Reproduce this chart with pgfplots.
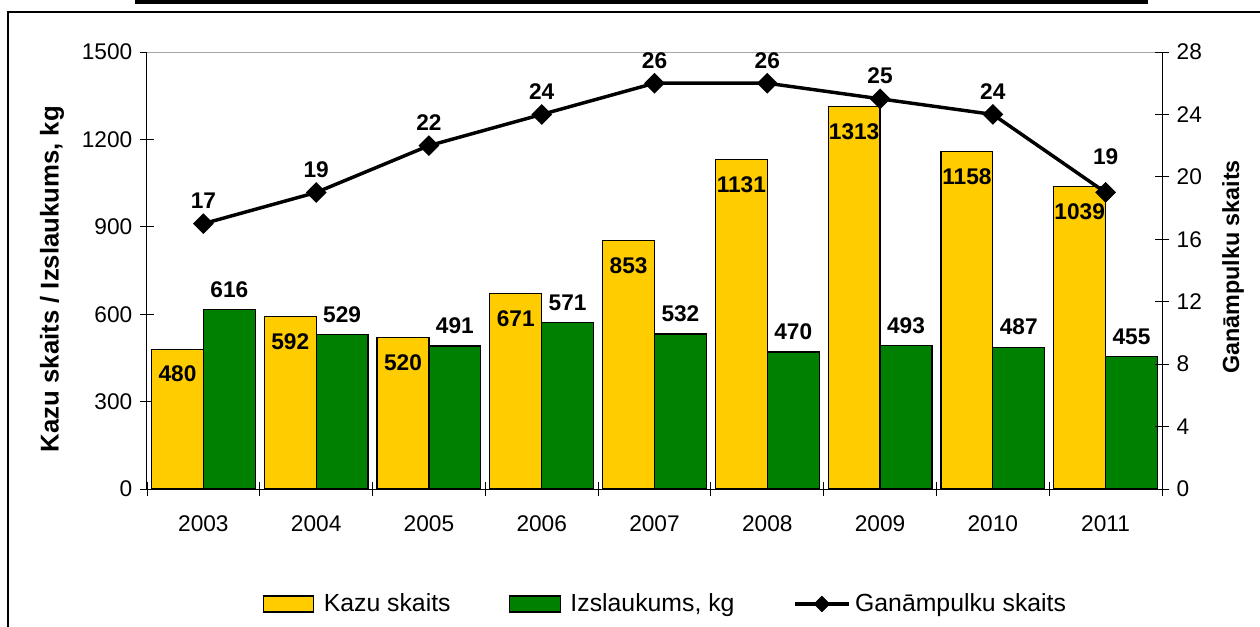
\documentclass[border=0pt]{standalone}
\usepackage{fontspec}
\setmainfont{Liberation Sans}
\usepackage{pgfplots}
\pgfplotsset{compat=1.18}
\definecolor{gold}{HTML}{FFCC00}
\definecolor{dgreen}{HTML}{008000}
\pgfplotsset{/pgf/number format/1000 sep={}}
\newcommand{\fs}{\fontsize{17}{20}\selectfont}
\newcommand{\fl}{\fontsize{18.6}{22}\selectfont}
\begin{document}
\begin{tikzpicture}[x=0.75pt,y=-0.75pt]
\useasboundingbox (0,0) rectangle (1260,626);
\fill (135,0) rectangle (1148,3.5);
\draw[line width=1.5pt] (8,630) -- (8,12) -- (1265,12);
\begin{axis}[
  at={(110.25pt,-366.75pt)}, anchor=south west,
  scale only axis, width=761.25pt, height=327.75pt,
  xmin=-0.5, xmax=8.5, ymin=0, ymax=1500,
  xtick={0,...,8}, xticklabels={2003,2004,2005,2006,2007,2008,2009,2010,2011},
  minor xtick={-0.5,0.5,...,8.5},
  major x tick style={draw=none},
  ytick={0,300,...,1500},
  axis x line*=bottom, axis y line*=left,
  tick align=center, major tick length=11pt, minor tick length=11pt,
  tick style={black, line width=0.6pt},
  axis line style={black, line width=0.75pt, -},
  /pgf/number format/assume math mode=true,
  tick label style={font=\fs},
  xticklabel style={yshift=-11pt},
  yticklabel style={xshift=-2pt},
  ylabel={Kazu skaits / Izslaukums, kg},
  ylabel style={at={(rel axis cs:-0.0936,0.4805)}, anchor=center, font=\fontsize{19.3}{22}\selectfont\bfseries},
  legend columns=3,
  legend style={draw=none, fill=none, at={(0.511,-0.263)}, anchor=center, font=\fl,
    /tikz/every even column/.append style={column sep=42pt}},
  clip=false,
]
\draw[gray!70, line width=0.75pt] (rel axis cs:0,1) -- (rel axis cs:1,1);
\addplot[ybar, bar width=0.46, bar shift=-0.23, fill=gold, draw=black, line width=0.9pt,
  nodes near coords,
  every node near coord/.append style={anchor=center, xshift=-19.45pt, yshift=-18.75pt, font=\fs\bfseries, black},
  legend image code/.code={\draw[fill=gold,draw=black,line width=0.9pt] (0pt,-6pt) rectangle (38pt,6pt); \path (43pt,0pt);}]
  coordinates {(0,480) (1,592) (2,520) (3,671) (4,853) (5,1131) (6,1313) (7,1158) (8,1039)};
\addlegendentry{Kazu skaits}
\addplot[ybar, bar width=0.46, bar shift=0.23, fill=dgreen, draw=black, line width=0.9pt,
  nodes near coords,
  every node near coord/.append style={anchor=center, xshift=19.45pt, yshift=15pt, font=\fs\bfseries, black},
  legend image code/.code={\draw[fill=dgreen,draw=black,line width=0.9pt] (0pt,-6pt) rectangle (38pt,6pt); \path (43pt,0pt);}]
  coordinates {(0,616) (1,529) (2,491) (3,571) (4,532) (5,470) (6,493) (7,487) (8,455)};
\addlegendentry{Izslaukums, kg}
\addlegendimage{legend image code/.code={\draw[black,line width=2.6pt] (0pt,0pt) -- (40.5pt,0pt);
  \path plot[mark=square*, mark size=4.2pt, mark options={rotate=45,black,fill=black}] coordinates {(20.25pt,0pt)};
  \path (43pt,0pt);}}
\addlegendentry{Ganāmpulku skaits}
\end{axis}
\begin{axis}[
  at={(110.25pt,-366.75pt)}, anchor=south west,
  scale only axis, width=761.25pt, height=327.75pt,
  xmin=-0.5, xmax=8.5, ymin=0, ymax=28,
  ytick={0,4,...,28},
  axis y line*=right, axis x line=none,
  tick align=center, major tick length=11pt,
  tick style={black, line width=0.6pt},
  axis line style={black, line width=0.75pt, -},
  /pgf/number format/assume math mode=true,
  tick label style={font=\fs},
  yticklabel style={xshift=2pt},
  ylabel={Ganāmpulku skaits},
  ylabel style={at={(rel axis cs:1.07,0.508)}, anchor=center, font=\fontsize{17.5}{20}\selectfont\bfseries},
  clip=false,
]
\addplot[black, line width=2.6pt, mark=square*, mark size=4.2pt,
  mark options={rotate=45, solid, fill=black},
  nodes near coords,
  visualization depends on={\thisrow{s}\as\sh},
  every node near coord/.append style={anchor=center, yshift=\sh pt, font=\fs\bfseries, black}]
  table {
x y s
0 17 17
1 19 17
2 22 17
3 24 17
4 26 17
5 26 17
6 25 17
7 24 17
8 19 27
};
\end{axis}
\end{tikzpicture}
\end{document}
